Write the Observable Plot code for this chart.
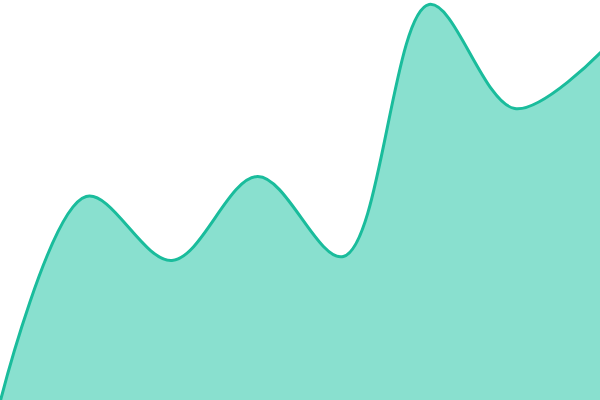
<!DOCTYPE html>
<html>
<head>
<meta charset="utf-8">
<script src="https://cdn.jsdelivr.net/npm/d3@7"></script>
<script src="https://cdn.jsdelivr.net/npm/@observablehq/plot@0.6"></script>
<style>
  html, body { margin: 0; padding: 0; background: #fff; overflow: hidden; }
  #chart svg { display: block; }
</style>
</head>
<body>
<div id="chart"></div>
<script>
const xs = [0, 1, 2, 3, 4, 5, 6, 7];
const values = [0, 51, 35, 56, 36, 99, 73, 87];

const data = xs.map((x, i) => ({x, y: values[i]}));

const chart = Plot.plot({
  width: 600,
  height: 400,
  margin: 0,
  x: {domain: [0, 7], axis: null},
  y: {domain: [0, 100], axis: null},
  marks: [
    Plot.areaY(data, {x: "x", y: "y", curve: "catmull-rom", fill: "#89e0cf"}),
    Plot.lineY(data, {x: "x", y: "y", curve: "catmull-rom", stroke: "#1abc9c", strokeWidth: 3})
  ]
});
document.getElementById("chart").appendChild(chart);
</script>
</body>
</html>
